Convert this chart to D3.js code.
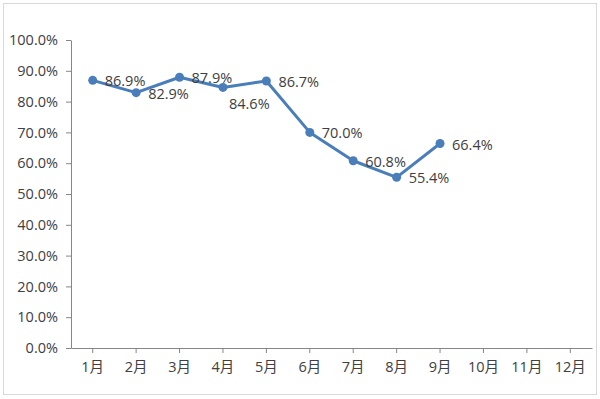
<!DOCTYPE html>
<html>
<head>
<meta charset="utf-8">
<script src="https://cdn.jsdelivr.net/npm/d3@7"></script>
<style>
  body { margin: 0; background: #fff; }
  text { font-family: "Open Sans", "Noto Sans CJK SC", sans-serif; fill: #404040; }
</style>
</head>
<body>
<div id="chart"></div>
<script>
var months = ["1月", "2月", "3月", "4月", "5月", "6月", "7月", "8月", "9月", "10月", "11月", "12月"];
var rates = [86.9, 82.9, 87.9, 84.6, 86.7, 70.0, 60.8, 55.4, 66.4];
var yTicks = [0, 10, 20, 30, 40, 50, 60, 70, 80, 90, 100];

var width = 600, height = 399;
var margin = {top: 40, right: 8, bottom: 51, left: 71};
var fs = 14.5;

var svg = d3.select("#chart").append("svg")
    .attr("width", width)
    .attr("height", height);

// outer frame
svg.append("rect")
    .attr("x", 3.5).attr("y", 3.5)
    .attr("width", width - 7).attr("height", height - 8)
    .attr("fill", "none")
    .attr("stroke", "#d9d9d9");

var x = d3.scaleBand()
    .domain(months)
    .range([margin.left, width - margin.right]);

var y = d3.scaleLinear()
    .domain([0, 100])
    .range([height - margin.bottom, margin.top]);

var xAxis = d3.axisBottom(x).tickSize(5).tickSizeOuter(0);
var yAxis = d3.axisLeft(y)
    .tickValues(yTicks)
    .tickSize(5)
    .tickSizeOuter(0)
    .tickFormat(function(d) { return d.toFixed(1) + "%"; });

var gx = svg.append("g")
    .attr("transform", "translate(0," + y(0) + ")")
    .call(xAxis);
gx.selectAll("text").attr("font-size", fs).attr("dy", "1.1em");

var gy = svg.append("g")
    .attr("transform", "translate(" + margin.left + ",0)")
    .call(yAxis);
gy.selectAll("text").attr("font-size", fs).attr("x", -13);

svg.selectAll(".domain, .tick line").attr("stroke", "#868686");

var cx = function(d, i) { return x(months[i]) + x.bandwidth() / 2; };

var line = d3.line()
    .x(cx)
    .y(function(d) { return y(d); });

svg.append("path")
    .datum(rates)
    .attr("fill", "none")
    .attr("stroke", "#4a7ebb")
    .attr("stroke-width", 3)
    .attr("stroke-linejoin", "round")
    .attr("d", line);

svg.selectAll(".dot")
    .data(rates)
    .enter().append("circle")
    .attr("cx", cx)
    .attr("cy", function(d) { return y(d); })
    .attr("r", 4.5)
    .attr("fill", "#4a7ebb");

svg.selectAll(".lbl")
    .data(rates)
    .enter().append("text")
    .attr("x", function(d, i) { return cx(d, i) + (i === 3 ? 6 : 12); })
    .attr("y", function(d, i) { return y(d) + (i === 3 ? 16 : 1); })
    .attr("dy", "0.35em")
    .attr("font-size", fs)
    .text(function(d) { return d.toFixed(1) + "%"; });
</script>
</body>
</html>
